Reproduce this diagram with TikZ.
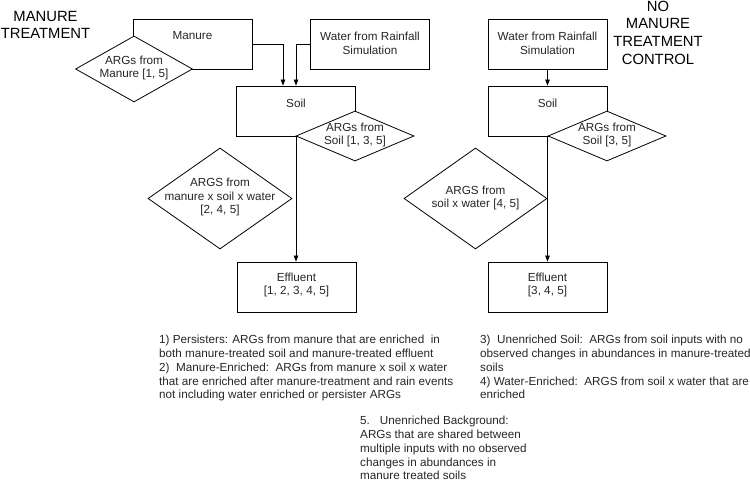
\documentclass[tikz,border=0pt]{standalone}
\usepackage{fontspec}
\setmainfont{Liberation Sans}
\usetikzlibrary{shapes.geometric,arrows.meta}
\begin{document}
\begin{tikzpicture}[x=1bp,y=-1bp,
  every node/.style={font=\fontsize{11.7bp}{13.8bp}\selectfont, inner sep=0, text=black!85},
  box/.style={draw, line width=0.8bp, minimum width=119bp, minimum height=50bp},
  dia/.style={draw, diamond, fill=white, line width=0.8bp},
  lbl/.style={align=center},
  arr/.style={draw, line width=0.8bp, -{Triangle[length=6bp,width=4.5bp]}},
  ttl/.style={font=\fontsize{14.8bp}{17.7bp}\selectfont, align=center, text=black},
  note/.style={align=left, anchor=north west}
]
\useasboundingbox (0,0) rectangle (750,483);
% ---------- left: manure treatment ----------
\node[box] (manure) at (192.5,44) {};
\node[box] (water) at (370,44) {};
\node[box] (soil) at (296,111) {};
\node[box] (eff) at (296.5,287) {};
\node[dia, minimum width=117bp, minimum height=66bp] (mdia) at (134,69) {};
\node[dia, minimum width=118bp, minimum height=50bp] (sdia) at (355,136) {};
\node[dia, minimum width=144bp, minimum height=101bp] (adia) at (220,198.5) {};
\node[lbl] (manuret) at (192.5,36) {Manure};
\node[lbl] (watert) at (370,43) {Water from Rainfall\\Simulation};
\node[lbl] (soilt) at (296,103) {Soil};
\node[lbl] (efft) at (296.5,285) {Effluent\\{}[1, 2, 3, 4, 5]};
\node[lbl] (mdiat) at (134,68) {ARGs from\\Manure [1, 5]};
\node[lbl] (sdiat) at (355,135) {ARGs from\\Soil [1, 3, 5]};
\node[lbl] (adiat) at (220,197) {ARGS from\\manure x soil x water\\{}[2, 4, 5]};
\draw[arr] (manure.east) -| ([xshift=-13bp]soil.north);
\draw[arr] (water.west) -| (soil.north);
\draw[arr] (soil.south) -- (soil.south |- eff.north);
% ---------- right: no manure control ----------
\node[box] (water2) at (547.5,44) {};
\node[box] (soil2) at (547.5,111) {};
\node[box] (eff2) at (547.5,287) {};
\node[dia, minimum width=118bp, minimum height=50bp] (sdia2) at (607,136) {};
\node[dia, minimum width=143bp, minimum height=101bp] (adia2) at (475.5,198.5) {};
\node[lbl] (water2t) at (547.5,43) {Water from Rainfall\\Simulation};
\node[lbl] (soil2t) at (547.5,103) {Soil};
\node[lbl] (eff2t) at (547.5,285) {Effluent\\{}[3, 4, 5]};
\node[lbl] (sdia2t) at (607,135) {ARGs from\\Soil [3, 5]};
\node[lbl] (adia2t) at (475.5,198) {ARGS from\\soil x water [4, 5]};
\draw[arr] (water2.south) -- (soil2.north);
\draw[arr] (soil2.south) -- (soil2.south |- eff2.north);
% ---------- titles ----------
\node[ttl] (t1) at (45.5,25) {MANURE\\TREATMENT};
\node[ttl] (t2) at (658,32.5) {NO\\MANURE\\TREATMENT\\CONTROL};
% ---------- notes ----------
\node[note] (n1) at (159,335) {1) Persisters: ARGs from manure that are enriched\ \ in\\
both manure-treated soil and manure-treated effluent\\
2)\ \ Manure-Enriched:\ \ ARGs from manure x soil x water\\
that are enriched after manure-treatment and rain events\\
not including water enriched or persister ARGs};
\node[note] (n2) at (480,335) {3)\ \ Unenriched Soil:\ \ ARGs from soil inputs with no\\
observed changes in abundances in manure-treated\\
soils\\
4) Water-Enriched:\ \ ARGS from soil x water that are\\
enriched};
\node[note] (n3) at (360,416) {5.\hspace{10bp}Unenriched Background:\\
ARGs that are shared between\\
multiple inputs with no observed\\
changes in abundances in\\
manure treated soils};
\end{tikzpicture}
\end{document}
